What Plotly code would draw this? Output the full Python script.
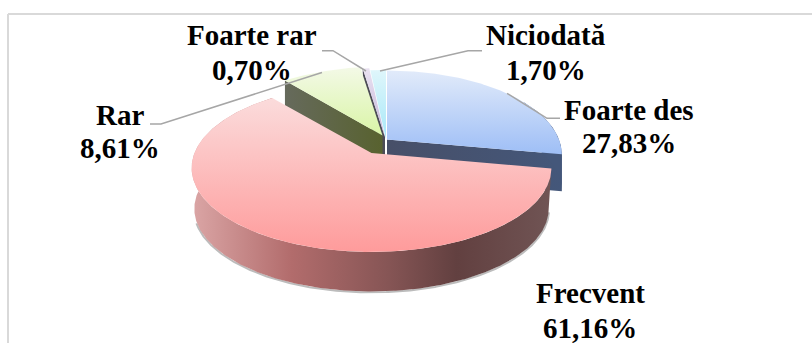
import numpy as np
import plotly.graph_objects as go

categories = ["Foarte des", "Frecvent", "Rar", "Foarte rar", "Niciodată"]
percent_values = [27.83, 61.16, 8.61, 0.70, 1.70]
percent_labels = ["27,83%", "61,16%", "8,61%", "0,70%", "1,70%"]

# styling / layout (pixels of the 812x343 canvas)
W, H = 812, 343
K = 0.1786
B = 81.3
FONT = dict(family="Liberation Serif", size=29, color="#000000")
apex = {
    "Foarte des": (387.0, 139.5, 172),
    "Frecvent": (371.5, 153.0, 177),
    "Rar": (382.5, 135.5, 174),
    "Foarte rar": (385.0, 137.0, 174),
    "Niciodată": (386.0, 139.0, 173),
}
top_grad = {
    "Foarte des": ("#e2ebfa", "#9fbff6", 70, 153),
    "Frecvent": ("#fbdddd", "#fe9b9b", 95, 252),
    "Rar": ("#f3f9e6", "#daf5a8", 68, 133),
    "Foarte rar": ("#e8e0f0", "#c4b6da", 71, 134),
    "Niciodată": ("#dff6fb", "#a8e8f8", 70, 138),
}
label_pos = {
    "Foarte des": (629, 110, 143),
    "Frecvent": (590, 293, 328),
    "Rar": (120, 115, 148),
    "Foarte rar": (252, 35, 70),
    "Niciodată": (546, 35, 70),
}
leaders = [
    ([150, 161, 322], [124, 124, 72.5]),
    ([322, 333, 366], [50.7, 50.7, 71]),
    ([482, 468, 380], [50.7, 50.7, 71]),
    ([560, 547, 507], [118.3, 118.3, 93.3]),
]
DEPTH = 41
BOT_SCALE = 0.985


def rim(deg, name, dz=0.0, scale=1.0):
    t = np.radians(deg)
    cx, cy, A = apex[name]
    u, v = np.sin(t), -np.cos(t)
    w = 1 - K * v
    return cx + scale * A * u / w, cy + dz + scale * B * v / w


def arc(a, b, name, dz=0.0, scale=1.0):
    n = max(3, int(abs(b - a)) * 2)
    return rim(np.linspace(a, b, n), name, dz, scale)


def poly(fig, xs, ys, c0, c1=None, kind="horizontal", start=None, stop=None):
    if c1 is None:
        fig.add_trace(go.Scatter(x=xs, y=ys, mode="lines", fill="toself", fillcolor=c0,
                                 line=dict(width=0), hoverinfo="skip", showlegend=False))
        return
    cs = c0 if isinstance(c0, list) else [[0, c0], [1, c1]]
    fig.add_trace(go.Scatter(x=xs, y=ys, mode="lines", fill="toself",
                             fillgradient=dict(type=kind, colorscale=cs, start=start, stop=stop),
                             line=dict(width=0), hoverinfo="skip", showlegend=False))


edges = np.concatenate([[0], np.cumsum(percent_values)]) * 3.6
span = {n: (edges[i], edges[i + 1]) for i, n in enumerate(categories)}

fig = go.Figure()

# red shadow
a0, a1 = span["Frecvent"]
sx, sy = arc(a0 + 2, a1 - 70, "Frecvent", DEPTH + 0.7, BOT_SCALE + 0.002)
fig.add_trace(go.Scatter(x=sx, y=sy, mode="lines", line=dict(color="#bcbcbc", width=2),
                         hoverinfo="skip", showlegend=False))

# cut walls behind
for name, side, c0, c1 in [("Foarte rar", 0, "#4c4c56", "#4c4c56"),
                           ("Rar", 0, "#666a5c", "#58622f")]:
    ang = span[name][side]
    rx, ry = rim(ang, name)
    cx, cy, _ = apex[name]
    poly(fig, [rx, cx, cx, rx, rx], [ry, cy, cy + DEPTH - 3, ry + DEPTH - 8, ry], c0, c1,
         start=min(rx, cx), stop=max(rx, cx))

# blue walls
b0, b1 = span["Foarte des"]
rx, ry = rim(b1, "Foarte des")
cx, cy, _ = apex["Foarte des"]
poly(fig, [cx, rx, rx, cx, cx], [cy, ry, ry + 37, cy + 37, cy], "#474f68", "#44577a", start=cx, stop=rx)
ax, ay = arc(b0 + 60, b1, "Foarte des")
lx, ly = arc(b1, b0 + 60, "Foarte des", 37)
poly(fig, np.r_[ax, lx], np.r_[ay, ly], "#44577a")

# red outer wall
tx, ty = arc(a0, a1, "Frecvent")
lx, ly = arc(a1, a0, "Frecvent", DEPTH, BOT_SCALE)
poly(fig, np.r_[tx, lx, tx[0]], np.r_[ty, ly, ty[0]],
     [[0, "#dba6a6"], [0.28, "#b26c6c"], [0.55, "#865555"], [0.74, "#624040"], [1, "#705454"]],
     1, "horizontal", 191, 550)

# top faces
for name in ["Foarte rar", "Niciodată", "Rar", "Foarte des", "Frecvent"]:
    a, b = span[name]
    x, y = arc(a, b, name)
    cx, cy, _ = apex[name]
    c0, c1, s0, s1 = top_grad[name]
    poly(fig, np.r_[cx, x, cx], np.r_[cy, y, cy], c0, c1, "vertical", s0, s1)

# leader lines
for lx, ly in leaders:
    fig.add_trace(go.Scatter(x=lx, y=ly, mode="lines", line=dict(color="#a6a6a6", width=1.5),
                             hoverinfo="skip", showlegend=False))

# frame (top and left only reach the picture)
fig.add_shape(type="line", x0=8, x1=W, y0=14, y1=14, line=dict(color="#d9d9d9", width=2))
fig.add_shape(type="line", x0=8, x1=8, y0=14, y1=H, line=dict(color="#d9d9d9", width=2))

for name, lab in zip(categories, percent_labels):
    x, y1, y2 = label_pos[name]
    fig.add_annotation(x=x, y=y1, text=f"<b>{name}</b>", showarrow=False, font=FONT,
                       xanchor="center", yanchor="middle")
    fig.add_annotation(x=x, y=y2, text=f"<b>{lab}</b>", showarrow=False, font=FONT,
                       xanchor="center", yanchor="middle")

fig.update_layout(
    width=W, height=H, margin=dict(l=0, r=0, t=0, b=0),
    paper_bgcolor="#ffffff", plot_bgcolor="#ffffff", showlegend=False,
    xaxis=dict(range=[0, W], visible=False, fixedrange=True),
    yaxis=dict(range=[H, 0], visible=False, fixedrange=True),
)
fig.write_html("out.html", config=dict(displayModeBar=False),
               post_script="document.body.style.margin='0';document.documentElement.style.overflow='hidden';")
